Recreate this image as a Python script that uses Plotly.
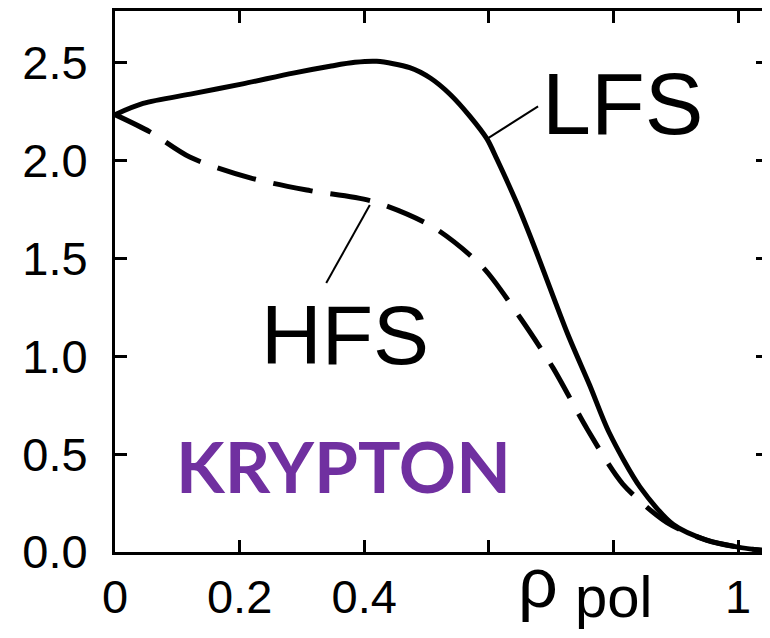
import plotly.graph_objects as go

# ---- data ----
rho_lfs = [0.0, 0.045, 0.125, 0.205, 0.286, 0.345, 0.385, 0.42, 0.473, 0.506, 0.538,
           0.570, 0.597, 0.613, 0.645, 0.671, 0.727, 0.762, 0.793,
           0.843, 0.896, 0.95, 1.0, 1.048]
lfs = [2.233, 2.29, 2.34, 2.39, 2.445, 2.48, 2.50, 2.505, 2.473, 2.42, 2.336,
       2.223, 2.109, 2.005, 1.78, 1.575, 1.109, 0.85, 0.61,
       0.33, 0.14, 0.06, 0.025, 0.005]

rho_hfs = [0.0, 0.056, 0.12, 0.217, 0.313, 0.414, 0.51, 0.59, 0.65, 0.703,
           0.758, 0.815, 0.886, 0.95, 1.0, 1.048]
hfs = [2.233, 2.145, 2.016, 1.91, 1.845, 1.79, 1.66, 1.455, 1.197, 0.94,
       0.627, 0.347, 0.15, 0.06, 0.025, 0.005]

x_tickvals = [0, 0.2, 0.4, 0.6, 0.8, 1.0]
x_ticktext = ["0", "0.2", "0.4", "", "", "1"]
y_tickvals = [0.0, 0.5, 1.0, 1.5, 2.0, 2.5]

FONT = "Liberation Sans, Arial, Helvetica, sans-serif"

fig = go.Figure()
fig.add_trace(go.Scatter(x=rho_lfs, y=lfs, mode="lines", name="LFS",
                         line=dict(color="black", width=5, shape="spline", smoothing=0.8)))
fig.add_trace(go.Scatter(x=rho_hfs, y=hfs, mode="lines", name="HFS",
                         line=dict(color="black", width=5, shape="spline", smoothing=0.8,
                                   dash="40px,18px")))

# leader lines
fig.add_shape(type="line", x0=0.597, y0=2.109, x1=0.679, y1=2.275,
              line=dict(color="black", width=2))
fig.add_shape(type="line", x0=0.409, y0=1.772, x1=0.339, y1=1.373,
              line=dict(color="black", width=2))

fig.add_annotation(x=0.815, y=2.29, text="LFS", showarrow=False,
                   font=dict(family=FONT, size=88, color="black"),
                   xanchor="center", yanchor="middle")
fig.add_annotation(x=0.369, y=1.109, text="HFS", showarrow=False,
                   font=dict(family=FONT, size=84, color="black"),
                   xanchor="center", yanchor="middle")
fig.add_annotation(x=0.366, y=0.44, text="<b>KRYPTON</b>", showarrow=False,
                   font=dict(family="Lato, Open Sans, sans-serif", size=71, color="#7030A0"),
                   xanchor="center", yanchor="middle")
fig.add_annotation(x=0.679, y=-0.058, xref="x", yref="paper", text="ρ", showarrow=False,
                   font=dict(family=FONT, size=70, color="black"),
                   xanchor="center", yanchor="middle")
fig.add_annotation(x=0.800, y=-0.083, xref="x", yref="paper", text="pol", showarrow=False,
                   font=dict(family=FONT, size=58, color="black"),
                   xanchor="center", yanchor="middle")

axis_common = dict(showgrid=False, zeroline=False, showline=True, linecolor="black",
                   linewidth=3, mirror="ticks", ticks="inside", ticklen=12, tickwidth=3,
                   tickcolor="black", automargin=False,
                   tickfont=dict(family=FONT, size=47, color="black"))

fig.update_xaxes(range=[0, 1.048], tickvals=x_tickvals, ticktext=x_ticktext,
                 ticklabelstandoff=2, **axis_common)
fig.update_yaxes(range=[0, 2.762], tickvals=y_tickvals, tickformat=".1f",
                 ticklabelstandoff=15, **axis_common)

# page body has an 8px margin; size the figure so the plot lands where the reference's does
fig.update_layout(width=762, height=630, showlegend=False,
                  margin=dict(l=107, r=2, t=3, b=86),
                  paper_bgcolor="white", plot_bgcolor="white")

fig.write_html("out.html")
